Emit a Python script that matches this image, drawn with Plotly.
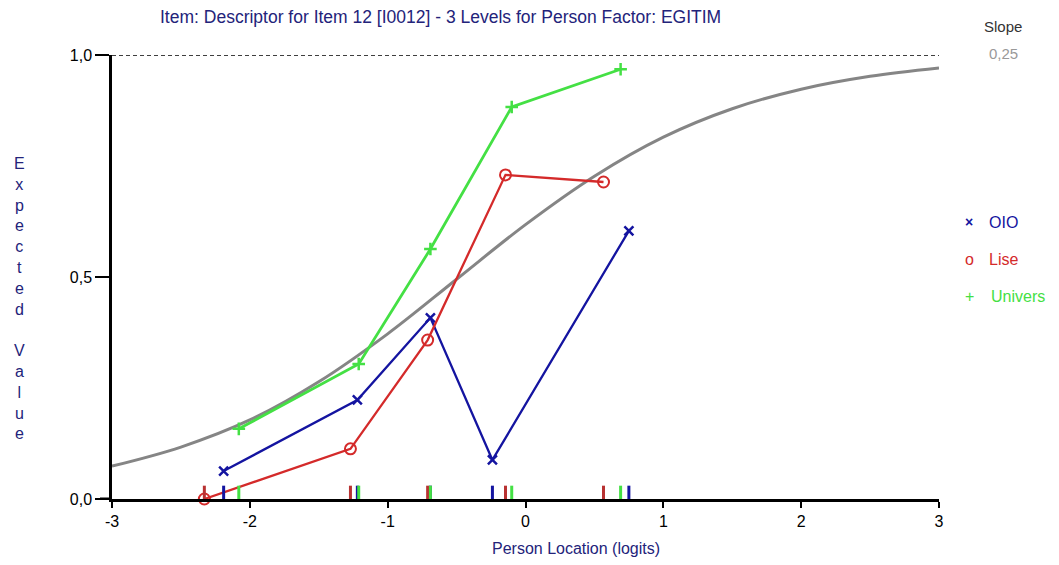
import plotly.graph_objects as go

# ---- data ----
oio_x = [-2.19, -1.22, -0.69, -0.24, 0.75]
oio_y = [0.063, 0.223, 0.408, 0.088, 0.604]

lise_x = [-2.33, -1.27, -0.71, -0.145, 0.566]
lise_y = [0.0, 0.113, 0.358, 0.730, 0.714]

univ_x = [-2.08, -1.21, -0.69, -0.10, 0.69]
univ_y = [0.158, 0.304, 0.563, 0.883, 0.968]

icc_x = [-3, -2.5, -2, -1.5, -1, -0.5, 0, 0.5, 1, 1.5, 2, 2.5, 3]
icc_y = [0.074, 0.117, 0.178, 0.264, 0.372, 0.495, 0.618, 0.727, 0.815, 0.879, 0.923, 0.952, 0.971]

x_ticks = [-3, -2, -1, 0, 1, 2, 3]
y_ticks = [0.0, 0.5, 1.0]

title_text = "Item: Descriptor for Item 12 [I0012] - 3 Levels for Person Factor: EGITIM"
slope_label = "0,25"

BLUE = "#1414a0"
RED = "#d42a2a"
RED_TICK = "#b83232"
GREEN = "#44e044"
GRAY = "#858585"
NAVY = "#23237a"

# page has an 8px body margin: plot area target = x 112..939, y 55..499 in window pixels
W, H = 1051, 557
ML, MT = 104, 47
PW, PH = 827, 444
MR, MB = W - ML - PW, H - MT - PH

fig = go.Figure()

fig.add_trace(go.Scatter(x=icc_x, y=icc_y, mode="lines", line=dict(color=GRAY, width=3, shape="spline"),
                         hoverinfo="skip", showlegend=False))

def rug(xs, color):
    rx, ry = [], []
    for v in xs:
        rx += [v, v, None]
        ry += [0, 0.03, None]
    return go.Scatter(x=rx, y=ry, mode="lines", line=dict(color=color, width=3),
                      hoverinfo="skip", showlegend=False, cliponaxis=False)

fig.add_trace(go.Scatter(x=oio_x, y=oio_y, mode="lines+markers", name="OIO",
                         line=dict(color=BLUE, width=2.3),
                         marker=dict(symbol="x-thin", size=9, line=dict(color=BLUE, width=2.5)),
                         cliponaxis=False, showlegend=False))
fig.add_trace(go.Scatter(x=lise_x, y=lise_y, mode="lines+markers", name="Lise",
                         line=dict(color=RED, width=2.3),
                         marker=dict(symbol="circle-open", size=11, line=dict(color=RED, width=2)),
                         cliponaxis=False, showlegend=False))
fig.add_trace(go.Scatter(x=univ_x, y=univ_y, mode="lines+markers", name="Univers",
                         line=dict(color=GREEN, width=2.8),
                         marker=dict(symbol="cross-thin", size=9, line=dict(color=GREEN, width=2.5)),
                         cliponaxis=False, showlegend=False))

fig.add_trace(rug(oio_x, BLUE))
fig.add_trace(rug(lise_x, RED_TICK))
fig.add_trace(rug(univ_x, GREEN))

fig.add_shape(type="line", xref="paper", yref="y", x0=0, x1=1, y0=1, y1=1,
              line=dict(color="black", width=1.5, dash="4px,3px"))
# bottom axis extends slightly left of the y axis
fig.add_shape(type="line", xref="paper", yref="y", x0=-12 / PW, x1=0, y0=0, y1=0,
              line=dict(color="black", width=3))

font_family = "Liberation Sans, Arial, sans-serif"

fig.update_layout(
    width=W, height=H,
    margin=dict(l=ML, r=MR, t=MT, b=MB),
    paper_bgcolor="white", plot_bgcolor="white",
    separators=",.",
    showlegend=False,
    font=dict(family=font_family, size=14, color="black"),
    xaxis=dict(range=[-3, 3], tickvals=x_ticks, ticktext=[str(t) if t >= 0 else "-" + str(-t) for t in x_ticks],
               showgrid=False, zeroline=False, showline=True, linecolor="black", linewidth=3,
               ticks="outside", ticklen=6, tickwidth=1.5, tickcolor="black",
               tickfont=dict(family=font_family, size=16)),
    yaxis=dict(range=[0, 1], tickvals=y_ticks, tickformat=".1f",
               showgrid=False, zeroline=False, showline=True, linecolor="black", linewidth=2.5,
               ticks="outside", ticklen=14, tickwidth=1.5, tickcolor="black",
               tickfont=dict(family=font_family, size=16)),
)

anns = [
    dict(text=title_text, x=440, y=17, xanchor="center", font=dict(size=17.5, color=NAVY)),
    dict(text="Person Location (logits)", x=576, y=548, xanchor="center", font=dict(size=16, color=NAVY)),
    dict(text="<br>".join(list("Expected")) + "<br><br>" + "<br>".join(list("Value")),
         x=19, y=298, xanchor="center", font=dict(size=16, color=NAVY)),
    dict(text="Slope", x=1003, y=27, xanchor="center", font=dict(size=15, color="#333333")),
    dict(text=slope_label, x=1003, y=54, xanchor="center", font=dict(size=15, color="#999999")),
    dict(text="<b>×</b>", x=969, y=222, xanchor="center", font=dict(size=14, color=BLUE)),
    dict(text="OIO", x=987, y=222, xanchor="left", font=dict(size=16, color=BLUE)),
    dict(text="o", x=969, y=259, xanchor="center", font=dict(size=16, color=RED)),
    dict(text="Lise", x=987, y=259, xanchor="left", font=dict(size=16, color=RED)),
    dict(text="+", x=969, y=296, xanchor="center", font=dict(size=16, color=GREEN)),
    dict(text="Univers", x=989, y=296, xanchor="left", font=dict(size=16, color=GREEN)),
]
for a in anns:
    x_px, y_px = a.pop("x"), a.pop("y")
    fig.add_annotation(xref="paper", yref="paper",
                       x=(x_px - 8 - ML) / PW, y=(H - MB - (y_px - 8)) / PH,
                       yanchor="middle", showarrow=False, **a)

fig.write_html("out.html")
